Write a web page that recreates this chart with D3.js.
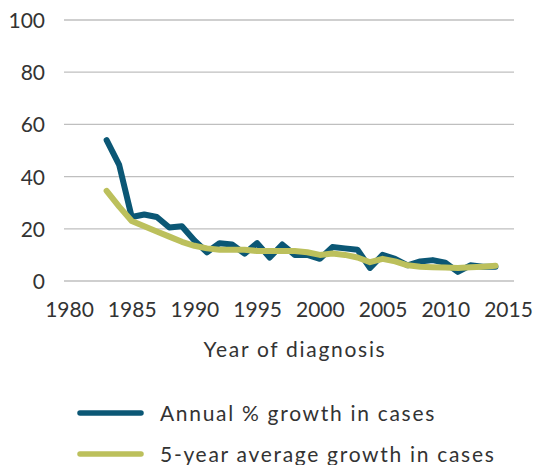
<!DOCTYPE html>
<html><head><meta charset="utf-8">
<script src="https://cdn.jsdelivr.net/npm/d3@7"></script>
<style>
html,body{margin:0;padding:0;background:#fff;}
text{font-family:Lato,"Noto Sans",sans-serif;fill:#333;}
</style></head>
<body><svg id="c" width="536" height="465"></svg>
<script>
const years = d3.range(1983, 2015);
const annualGrowth = [54, 44.5, 24.5, 25.5, 24.5, 20.5, 21, 15.5, 11, 14.5, 14, 10.5, 14.5, 9, 14, 10, 10, 8.5, 13, 12.5, 12, 5, 10, 8.5, 6, 7.5, 8, 7, 3.5, 6, 5.5, 5.5];
const avgGrowth = [34.5, 28.5, 23, 21, 19, 17, 15, 13.5, 12.5, 12, 12, 12, 11.5, 11.5, 11.5, 11.5, 11, 10, 10.5, 10, 9, 7.2, 8.5, 7.5, 6, 5.5, 5.3, 5.2, 5, 5.3, 5.5, 5.8];
const xTicks = [1980, 1985, 1990, 1995, 2000, 2005, 2010, 2015];
const yTicks = [0, 20, 40, 60, 80, 100];
const seriesNames = ["Annual % growth in cases", "5-year average growth in cases"];
const colors = ["#0b5775", "#bcc05c"];

const svg = d3.select("#c");
const x = d3.scaleLinear().domain([1980, 2015]).range([69, 508]);
const y = d3.scaleLinear().domain([0, 100]).range([281, 20]);

// gridlines
svg.append("g").selectAll("line").data(yTicks).join("line")
  .attr("x1", 64).attr("x2", 514)
  .attr("y1", d => y(d)).attr("y2", d => y(d))
  .attr("stroke", "#bfbfbf").attr("stroke-width", 1.3);

// y axis labels
const yAxis = d3.axisLeft(y).tickValues(yTicks).tickSize(0).tickPadding(0);
const gy = svg.append("g").attr("transform", "translate(45,0)").call(yAxis);
gy.select(".domain").remove();
gy.selectAll("text").attr("font-size", 21).attr("font-family", "Lato,'Noto Sans',sans-serif").attr("fill", "#333").attr("dy", "0.36em");

// x axis labels
const xAxis = d3.axisBottom(x).tickValues(xTicks).tickFormat(d3.format("d")).tickSize(0).tickPadding(0);
const gx = svg.append("g").attr("transform", "translate(0,300)").call(xAxis);
gx.select(".domain").remove();
gx.selectAll("text").attr("font-size", 21).attr("font-family", "Lato,'Noto Sans',sans-serif").attr("fill", "#333").attr("dy", "0.8em");

const wordFont = "Lato,sans-serif";
svg.append("text").attr("x", 295).attr("y", 357).attr("text-anchor", "middle")
  .attr("font-family", wordFont).attr("font-size", 21).attr("letter-spacing", 1.7).text("Year of diagnosis");

const line = d3.line().x((d, i) => x(years[i])).y(d => y(d));
[annualGrowth, avgGrowth].forEach((s, k) => {
  svg.append("path").attr("d", line(s)).attr("fill", "none")
    .attr("stroke", colors[k]).attr("stroke-width", 6)
    .attr("stroke-linejoin", "round").attr("stroke-linecap", "round");
});

// legend
const leg = svg.append("g");
seriesNames.forEach((n, k) => {
  const ly = 413 + k * 41;
  leg.append("line").attr("x1", 80).attr("x2", 141).attr("y1", ly).attr("y2", ly)
    .attr("stroke", colors[k]).attr("stroke-width", 5.5).attr("stroke-linecap", "round");
  leg.append("text").attr("x", 160).attr("y", ly + 7.5)
    .attr("font-family", wordFont).attr("font-size", 21).attr("letter-spacing", 1.7).text(n);
});
</script></body></html>
